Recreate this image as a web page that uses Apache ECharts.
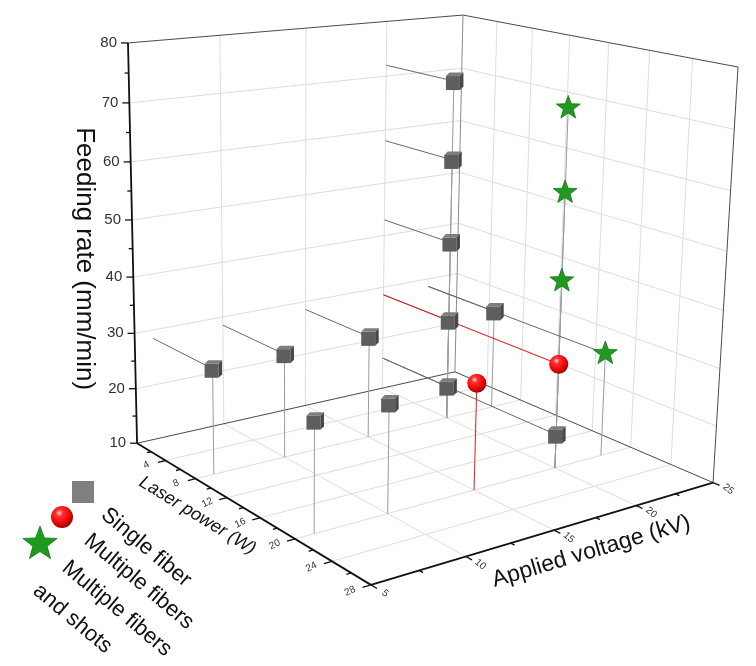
<!DOCTYPE html>
<html><head><meta charset="utf-8">
<script src="https://cdn.jsdelivr.net/npm/echarts@6/dist/echarts.min.js"></script>
<style>html,body{margin:0;padding:0;background:#fff}#main{width:756px;height:666px}</style>
</head><body><div id="main"></div>
<script>
// ---------------- data ----------------
const voltageRange = [5, 25];       // Applied voltage (kV)
const laserRange = [0, 28];         // Laser power (W)
const feedRange = [10, 80];         // Feeding rate (mm/min)
const voltageTicks = [5, 10, 15, 20, 25];
const voltageMinor = [7.5, 12.5, 17.5, 22.5];
const laserTicks = [4, 8, 12, 16, 20, 24, 28];
const laserMinor = [2, 6, 10, 14, 18, 22, 26];
const feedTicks = [10, 20, 30, 40, 50, 60, 70, 80];
const feedMinor = [15, 25, 35, 45, 55, 65, 75];

const axisTitles = ['Feeding rate (mm/min)', 'Laser power (W)', 'Applied voltage (kV)'];
const legendNames = ['Single fiber', 'Multiple fibers', 'Multiple fibers', 'and shots'];

// Single fiber
const singleVoltage = [6, 10, 15, 20, 20, 20, 20, 20, 23, 6, 10, 20];
const singleLaser   = [8, 8, 8, 8, 8, 8, 8, 8, 8, 20, 20, 20];
const singleFeed    = [28.5, 28.5, 28.5, 16, 28.5, 43, 58, 72, 28.5, 28.5, 28.5, 16];
const singleDrop    = [1, 1, 1, 1, 1, 1, 1, 1, 1, 1, 1, 1];
const singleWall    = [1, 1, 1, 1, 1, 1, 1, 1, 1, 0, 0, 1];
// Multiple fibers
const multiVoltage = [15, 20];
const multiLaser   = [20, 20];
const multiFeed    = [28.5, 28.5];
const multiDrop    = [1, 0];
const multiWall    = [0, 1];
// Multiple fibers and shots
const shotsVoltage = [20, 20, 20, 23];
const shotsLaser   = [20, 20, 20, 20];
const shotsFeed    = [43, 58, 72, 28.5];
const shotsDrop    = [1, 1, 1, 1];
const shotsWall    = [0, 0, 0, 1];

// ---------------- view (camera calibration of the 3D box) ----------------
const viewCalibration = [
  [5, 0, 10, 137, 443], [5, 28, 10, 371, 585], [25, 28, 10, 713, 482.5], [25, 0, 10, 455, 372],
  [5, 0, 80, 128, 43], [25, 0, 80, 463, 15], [25, 28, 80, 738, 67], [5, 0, 50, 132, 220]
];
function norm(V, L, Z) {
  return [(V - voltageRange[0]) / (voltageRange[1] - voltageRange[0]),
          (L - laserRange[0]) / (laserRange[1] - laserRange[0]),
          (Z - feedRange[0]) / (feedRange[1] - feedRange[0])];
}
function fitView(pts) {
  const n = 11, N = [];
  for (let i = 0; i < n; i++) N.push(new Array(n + 1).fill(0));
  const rows = [];
  pts.forEach(p => {
    const [x, y, z] = norm(p[0], p[1], p[2]);
    const u = (p[3] - 380) / 300, v = (p[4] - 330) / 300;
    rows.push([[x, y, z, 1, 0, 0, 0, 0, -u * x, -u * y, -u * z], u]);
    rows.push([[0, 0, 0, 0, x, y, z, 1, -v * x, -v * y, -v * z], v]);
  });
  rows.forEach(([a, b]) => {
    for (let i = 0; i < n; i++) { for (let j = 0; j < n; j++) N[i][j] += a[i] * a[j]; N[i][n] += a[i] * b; }
  });
  for (let c = 0; c < n; c++) {
    let p = c;
    for (let r = c + 1; r < n; r++) if (Math.abs(N[r][c]) > Math.abs(N[p][c])) p = r;
    const t = N[c]; N[c] = N[p]; N[p] = t;
    for (let r = 0; r < n; r++) {
      if (r === c) continue;
      const f = N[r][c] / N[c][c];
      for (let k = c; k <= n; k++) N[r][k] -= f * N[c][k];
    }
  }
  return N.map((row, i) => row[n] / row[i]);
}
const P = fitView(viewCalibration);
function proj(V, L, Z) {
  const [x, y, z] = norm(V, L, Z);
  const d = P[8] * x + P[9] * y + P[10] * z + 1;
  const u = (P[0] * x + P[1] * y + P[2] * z + P[3]) / d;
  const v = (P[4] * x + P[5] * y + P[6] * z + P[7]) / d;
  return [u * 300 + 380, v * 300 + 330];
}

// ---------------- frame segments from ticks ----------------
const V0 = voltageRange[0], V1 = voltageRange[1], L0 = laserRange[0], L1 = laserRange[1], Z0 = feedRange[0], Z1 = feedRange[1];
const frameSegs = [];
voltageTicks.slice(1, -1).forEach(V => { frameSegs.push([V, L0, Z0, V, L0, Z1, 0]); frameSegs.push([V, L0, Z0, V, L1, Z0, 0]); });
feedTicks.slice(1, -1).forEach(Z => { frameSegs.push([V0, L0, Z, V1, L0, Z, 0]); frameSegs.push([V1, L0, Z, V1, L1, Z, 0]); });
laserTicks.slice(0, -1).forEach(L => { frameSegs.push([V1, L, Z0, V1, L, Z1, 0]); frameSegs.push([V0, L, Z0, V1, L, Z0, 0]); });
frameSegs.push([V0, L0, Z1, V1, L0, Z1, 1]);
frameSegs.push([V1, L0, Z1, V1, L1, Z1, 1]);
frameSegs.push([V1, L0, Z0, V1, L0, Z1, 3]);
frameSegs.push([V1, L1, Z0, V1, L1, Z1, 1]);
frameSegs.push([V0, L0, Z0, V1, L0, Z0, 1]);
frameSegs.push([V1, L0, Z0, V1, L1, Z0, 1]);
frameSegs.push([V0, L0, Z0, V0, L0, Z1, 2]);
frameSegs.push([V0, L0, Z0, V0, L1, Z0, 2]);
frameSegs.push([V0, L1, Z0, V1, L1, Z0, 2]);
const segStyles = [
  { stroke: '#dedede', lineWidth: 1 },
  { stroke: '#4a4a4a', lineWidth: 1 },
  { stroke: '#111', lineWidth: 1.8 },
  { stroke: '#8a8a8a', lineWidth: 1 }
];

// ticks: [axis, value, major]
const tickData = [];
feedTicks.forEach(z => tickData.push([0, z, 1])); feedMinor.forEach(z => tickData.push([0, z, 0]));
laserTicks.forEach(l => tickData.push([1, l, 1])); laserMinor.forEach(l => tickData.push([1, l, 0]));
voltageTicks.forEach(v => tickData.push([2, v, 1])); voltageMinor.forEach(v => tickData.push([2, v, 0]));

// projection lines: [V, L, Z, drop, wall, colorKind]
const lineData = [];
singleVoltage.forEach((v, i) => lineData.push([v, singleLaser[i], singleFeed[i], singleDrop[i], singleWall[i], 0]));
shotsVoltage.forEach((v, i) => lineData.push([v, shotsLaser[i], shotsFeed[i], shotsDrop[i], shotsWall[i], 0]));
multiVoltage.forEach((v, i) => lineData.push([v, multiLaser[i], multiFeed[i], multiDrop[i], multiWall[i], 1]));

const FONT = '"Liberation Sans", Arial, sans-serif';

function starPts(cx, cy, R, r) {
  const pts = [];
  for (let k = 0; k < 10; k++) {
    const a = -Math.PI / 2 + k * Math.PI / 5, rad = k % 2 ? r : R;
    pts.push([cx + rad * Math.cos(a), cy + rad * Math.sin(a)]);
  }
  return pts;
}
function cube(cx, cy) {
  const h = 7, o = 3.5;
  return { type: 'group', children: [
    { type: 'rect', shape: { x: cx - h - 1, y: cy - h + 2, width: 2 * h, height: 2 * h }, style: { fill: '#5e5e5e' } },
    { type: 'polygon', shape: { points: [[cx - h - 1, cy - h + 2], [cx - h - 1 + o, cy - h + 2 - o], [cx + h - 1 + o, cy - h + 2 - o], [cx + h - 1, cy - h + 2]] }, style: { fill: '#7d7d7d' } },
    { type: 'polygon', shape: { points: [[cx + h - 1, cy - h + 2], [cx + h - 1 + o, cy - h + 2 - o], [cx + h - 1 + o, cy + h + 2 - o], [cx + h - 1, cy + h + 2]] }, style: { fill: '#474747' } }
  ] };
}
const sphereFill = { type: 'radial', x: 0.38, y: 0.32, r: 0.72, colorStops: [
  { offset: 0, color: '#ffe0e0' }, { offset: 0.22, color: '#ff3030' }, { offset: 0.75, color: '#dd0000' }, { offset: 1, color: '#8a0000' }] };
function sphere(cx, cy, r) {
  return { type: 'circle', shape: { cx: cx, cy: cy, r: r }, style: { fill: sphereFill } };
}
function star(cx, cy, R, r) {
  return { type: 'polygon', shape: { points: starPts(cx, cy, R, r) }, style: { fill: '#1f9a1f', stroke: '#0e6a0e', lineWidth: 0.7 } };
}

const base = { type: 'custom', coordinateSystem: 'none', silent: true, animation: false };

const option = {
  backgroundColor: '#ffffff',
  animation: false,
  series: [
    Object.assign({}, base, { name: 'frame', data: frameSegs, z: 1,
      renderItem: (params, api) => {
        const a = proj(api.value(0), api.value(1), api.value(2));
        const b = proj(api.value(3), api.value(4), api.value(5));
        return { type: 'line', shape: { x1: a[0], y1: a[1], x2: b[0], y2: b[1] }, style: segStyles[api.value(6)] };
      } }),
    Object.assign({}, base, { name: 'ticks', data: tickData, z: 2,
      renderItem: (params, api) => {
        const ax = api.value(0), val = api.value(1), major = api.value(2);
        let a, b, lab = null;
        if (ax === 0) {
          a = proj(V0, L0, val); b = [a[0] - (major ? 7 : 4), a[1]];
          if (major) lab = { type: 'text', x: a[0] - 11, y: a[1], style: { text: String(val), font: '15px ' + FONT, fill: '#333', align: 'right', verticalAlign: 'middle' } };
        } else if (ax === 1) {
          a = proj(V0, val, Z0); b = proj(V0 - (major ? 0.42 : 0.24), val, Z0);
          if (major) { const p = proj(V0 - 1.05, val, Z0); lab = { type: 'text', x: p[0], y: p[1], rotation: 0.45, style: { text: String(val), font: '10px ' + FONT, fill: '#333', align: 'center', verticalAlign: 'middle' } }; }
        } else {
          a = proj(val, L1, Z0); b = proj(val, L1 + (major ? 0.6 : 0.38), Z0);
          if (major) { const p = proj(val, L1 + 1.4, Z0); lab = { type: 'text', x: p[0], y: p[1], rotation: -0.7, style: { text: String(val), font: '10px ' + FONT, fill: '#333', align: 'center', verticalAlign: 'middle' } }; }
        }
        const children = [{ type: 'line', shape: { x1: a[0], y1: a[1], x2: b[0], y2: b[1] }, style: { stroke: '#111', lineWidth: 1.3 } }];
        if (lab) children.push(lab);
        return { type: 'group', children: children };
      } }),
    Object.assign({}, base, { name: 'titles', data: [[0], [1], [2]], z: 2,
      renderItem: (params, api) => {
        const k = api.value(0);
        if (k === 0) {
          const p = proj(V0, L0, (Z0 + Z1) / 2);
          return { type: 'text', x: p[0] - 48, y: p[1] + 10, rotation: -Math.PI / 2, style: { text: axisTitles[0], font: '26px ' + FONT, fill: '#111', align: 'center', verticalAlign: 'middle' } };
        } else if (k === 1) {
          const p = proj(V0, (L0 + L1) / 2, Z0);
          return { type: 'text', x: p[0] - 46, y: p[1] + 8, rotation: -0.55, style: { text: axisTitles[1], font: 'italic 18px ' + FONT, fill: '#111', align: 'center', verticalAlign: 'middle' } };
        }
        const p = proj(16.5, L1, Z0);
        return { type: 'text', x: p[0] + 12, y: p[1] + 29, rotation: 0.29, style: { text: axisTitles[2], font: '23px ' + FONT, fill: '#111', align: 'center', verticalAlign: 'middle' } };
      } }),
    Object.assign({}, base, { name: 'projection lines', data: lineData, z: 3,
      renderItem: (params, api) => {
        const V = api.value(0), L = api.value(1), Z = api.value(2), red = api.value(5) === 1;
        const p = proj(V, L, Z), children = [];
        if (api.value(3)) { const f = proj(V, L, Z0); children.push({ type: 'line', shape: { x1: p[0], y1: p[1], x2: f[0], y2: f[1] }, style: { stroke: red ? '#e81a1a' : '#9c9c9c', lineWidth: 1 } }); }
        if (api.value(4)) { const w = proj(V, L0, Z); children.push({ type: 'line', shape: { x1: p[0], y1: p[1], x2: w[0], y2: w[1] }, style: { stroke: red ? '#e81a1a' : '#6a6a6a', lineWidth: 1 } }); }
        return { type: 'group', children: children };
      } }),
    Object.assign({}, base, { name: 'Single fiber', data: singleVoltage.map((v, i) => [v, singleLaser[i], singleFeed[i]]), z: 4,
      renderItem: (params, api) => { const p = proj(api.value(0), api.value(1), api.value(2)); return cube(p[0], p[1]); } }),
    Object.assign({}, base, { name: 'Multiple fibers', data: multiVoltage.map((v, i) => [v, multiLaser[i], multiFeed[i]]), z: 5,
      renderItem: (params, api) => { const p = proj(api.value(0), api.value(1), api.value(2)); return sphere(p[0], p[1], 9.5); } }),
    Object.assign({}, base, { name: 'Multiple fibers and shots', data: shotsVoltage.map((v, i) => [v, shotsLaser[i], shotsFeed[i]]), z: 6,
      renderItem: (params, api) => { const p = proj(api.value(0), api.value(1), api.value(2)); return star(p[0], p[1], 12.5, 5.2); } })
  ],
  graphic: (function () {
    const g = [];
    g.push({ type: 'rect', shape: { x: 72, y: 481, width: 22, height: 22 }, style: { fill: '#808080' } });
    g.push(sphere(62, 517, 11));
    g.push(star(40, 544, 18, 7.5));
    const txt = [[104, 512], [87, 538], [65, 565], [36, 588]];
    txt.forEach((t, i) => g.push({ type: 'text', x: t[0], y: t[1], rotation: -0.70, style: { text: legendNames[i], font: '22px ' + FONT, fill: '#111', align: 'left', verticalAlign: 'middle' } }));
    return g;
  })()
};

const chart = echarts.init(document.getElementById('main'), null, { renderer: 'canvas' });
chart.setOption(option);
</script>
</body></html>
